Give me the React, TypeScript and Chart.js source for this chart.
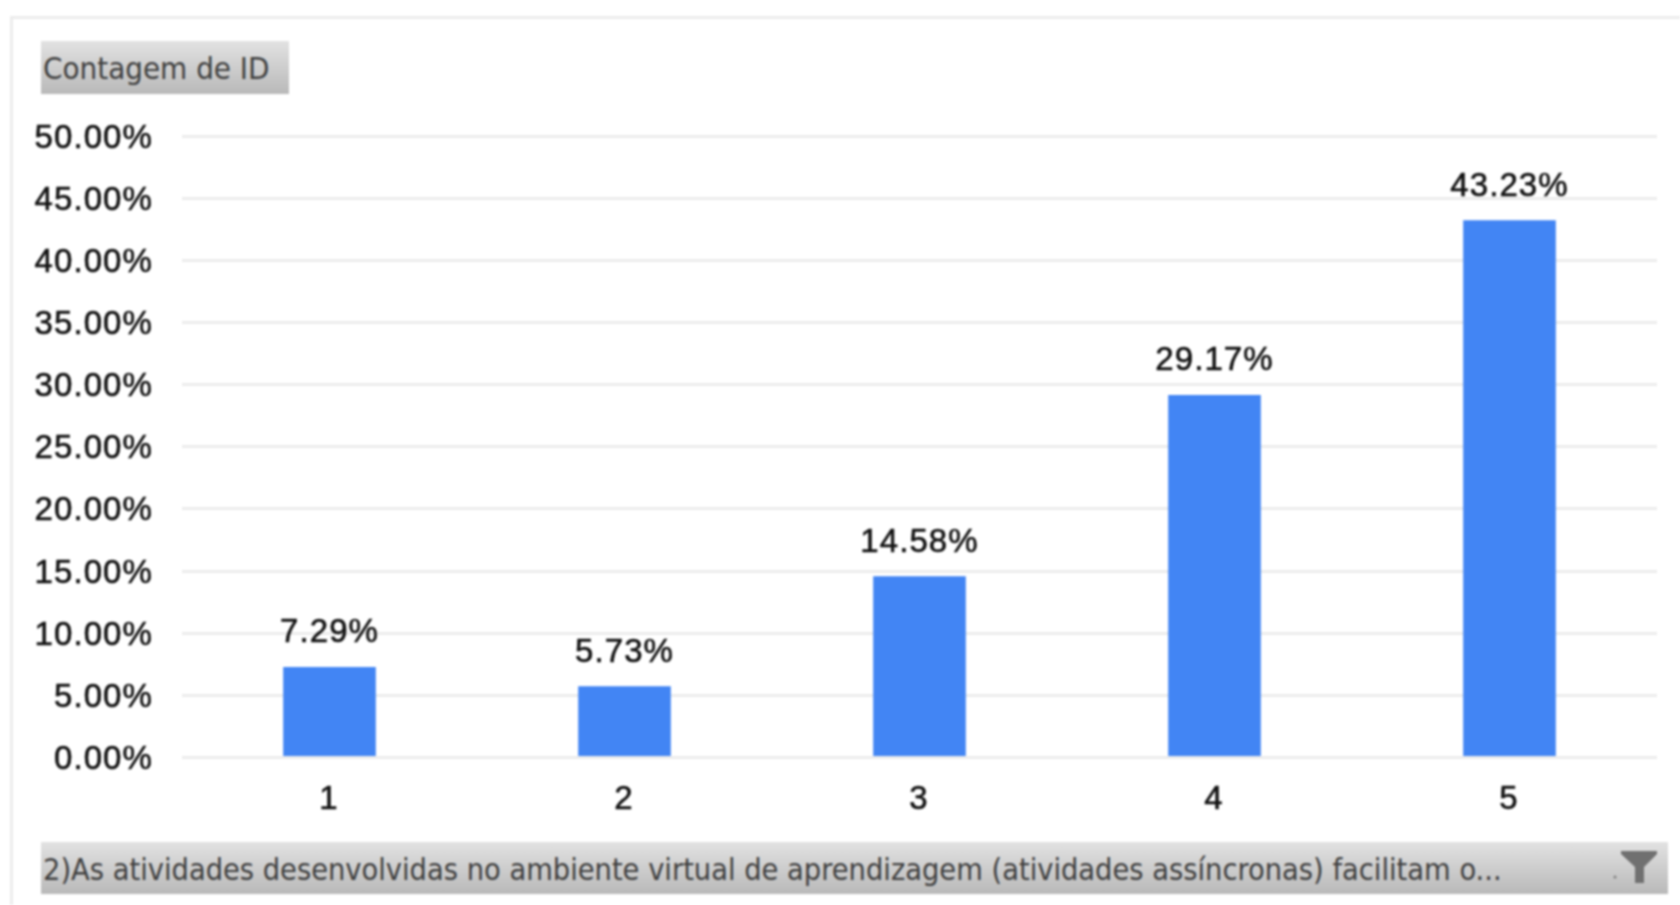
import React, { useEffect, useRef } from "react";
import { Chart, registerables } from "chart.js";

Chart.register(...registerables);

const categories = ["1", "2", "3", "4", "5"];
const values = [7.29, 5.73, 14.58, 29.17, 43.23];
const headerLabel = "Contagem de ID";
const footerLabel =
  "2)As atividades desenvolvidas no ambiente virtual de aprendizagem (atividades assíncronas) facilitam o...";

const valueLabels = {
  id: "valueLabels",
  beforeDraw(chart: any) {
    chart.ctx.letterSpacing = "1.1px";
  },
  afterDatasetsDraw(chart: any) {
    const { ctx } = chart;
    const meta = chart.getDatasetMeta(0);
    ctx.save();
    ctx.font = "33px 'Liberation Sans'";
    ctx.fillStyle = "#111111";
    ctx.strokeStyle = "#111111";
    ctx.lineWidth = 0.6;
    ctx.textAlign = "center";
    ctx.textBaseline = "alphabetic";
    meta.data.forEach((bar: any, i: number) => {
      const t = values[i].toFixed(2) + "%";
      ctx.fillText(t, bar.x, bar.y - 24.5);
      ctx.strokeText(t, bar.x, bar.y - 24.5);
    });
    ctx.restore();
  },
};

const bandStyle: React.CSSProperties = {
  position: "absolute",
  background: "linear-gradient(#e2e2e2, #b9b9b9)",
  color: "#404040",
  fontFamily: "'DejaVu Sans Condensed', 'DejaVu Sans'",
  fontStretch: "condensed",
  lineHeight: "55px",
  whiteSpace: "nowrap",
  overflow: "hidden",
  boxSizing: "border-box",
  paddingLeft: 2,
};

export default function App() {
  const ref = useRef<HTMLCanvasElement>(null);
  useEffect(() => {
    document.body.style.margin = "0";
    document.body.style.background = "#fff";
    const chart = new Chart(ref.current!, {
      type: "bar",
      data: {
        labels: categories,
        datasets: [
          {
            data: values,
            backgroundColor: "#4285f4",
            barPercentage: 0.314,
            categoryPercentage: 1,
          },
        ],
      },
      options: {
        responsive: false,
        animation: false,
        layout: { padding: { left: 0, right: 23, top: 136, bottom: 0 } },
        plugins: { legend: { display: false }, tooltip: { enabled: false } },
        scales: {
          x: {
            grid: { display: false },
            border: { display: false },
            ticks: {
              color: "#111111",
              font: { family: "'Liberation Sans'", size: 33 },
              padding: 14.5,
              maxRotation: 0,
              labelOffset: -0.5,
              textStrokeWidth: 0.6,
              textStrokeColor: "#111111",
            },
            afterFit: (s: any) => {
              s.height = 905 - 757.5;
            },
          },
          y: {
            min: 0,
            max: 50,
            grid: { color: "#ececec", lineWidth: 3, drawTicks: false },
            border: { display: false },
            ticks: {
              stepSize: 5,
              color: "#111111",
              padding: 29,
              labelOffset: 2.5,
              textStrokeWidth: 0.6,
              textStrokeColor: "#111111",
              font: { family: "'Liberation Sans'", size: 33 },
              callback: (v: any) => Number(v).toFixed(2) + "%",
            },
            afterFit: (s: any) => {
              s.width = 182;
            },
          },
        },
      },
      plugins: [valueLabels],
    });
    return () => chart.destroy();
  }, []);

  return (
    <div style={{ position: "relative", width: 1680, height: 905, overflow: "hidden", filter: "blur(0.8px)" }}>
      <div
        style={{
          position: "absolute",
          left: 10,
          top: 16,
          width: 1700,
          height: 920,
          borderLeft: "3px solid #ececec",
          borderTop: "3px solid #ececec",
        }}
      />
      <canvas ref={ref} width={1680} height={905} style={{ position: "absolute", left: 0, top: 0, display: "block" }} />
      <div style={{ ...bandStyle, left: 41, top: 41, width: 248, height: 53, fontSize: 31 }}>{headerLabel}</div>
      <div style={{ ...bandStyle, left: 41, top: 842, width: 1627, height: 52, fontSize: 30.4 }}>
        {footerLabel}
        <svg width="50" height="44" viewBox="0 0 50 44" style={{ position: "absolute", left: 1571, top: 5 }}>
          <circle cx="3" cy="30" r="1.5" fill="#808080" />
          <path d="M9 4 H45 V7 L32 20 V36 H23 V20 L9 7 Z" fill="#707070" />
        </svg>
      </div>
    </div>
  );
}
